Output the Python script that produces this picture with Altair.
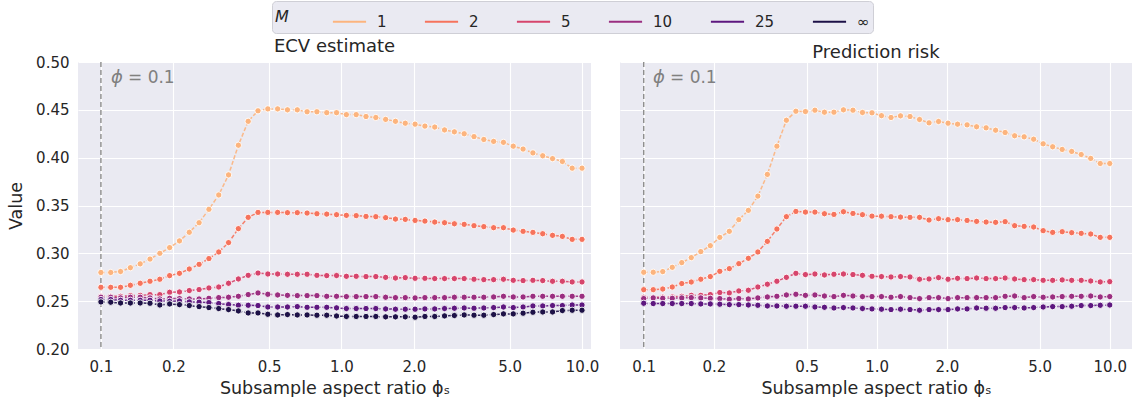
import altair as alt
import pandas as pd

# Subsample aspect ratios (log-spaced grid from 0.1 to 10, 50 points)
PHI = [0.1, 0.10985, 0.12068, 0.13257, 0.14563, 0.15998, 0.17575, 0.19307, 0.21210, 0.23300,
       0.25595, 0.28118, 0.30888, 0.33932, 0.37276, 0.40949, 0.44984, 0.49417, 0.54287, 0.59636,
       0.65513, 0.71969, 0.79060, 0.86851, 0.95410, 1.04811, 1.15140, 1.26486, 1.38950, 1.52642,
       1.67683, 1.84207, 2.02359, 2.22300, 2.44205, 2.68270, 2.94705, 3.23746, 3.55648, 3.90694,
       4.29193, 4.71487, 5.17947, 5.68987, 6.25055, 6.86649, 7.54312, 8.28643, 9.10298, 10.0]

M_LABELS = ["1", "2", "5", "10", "25", "∞"]
COLORS = ["#fcb47e", "#f6735c", "#d6456c", "#9a2e80", "#5d177f", "#1d1147"]

# ECV estimate per ensemble size M
ecv_m1 = [0.280, 0.280, 0.281, 0.285, 0.289, 0.294, 0.300, 0.306, 0.313, 0.322,
          0.332, 0.346, 0.361, 0.382, 0.413, 0.438, 0.449, 0.451, 0.451, 0.450,
          0.450, 0.448, 0.448, 0.447, 0.447, 0.445, 0.445, 0.443, 0.442, 0.440,
          0.438, 0.436, 0.435, 0.433, 0.432, 0.429, 0.427, 0.425, 0.422, 0.419,
          0.417, 0.416, 0.412, 0.409, 0.405, 0.402, 0.399, 0.396, 0.389, 0.389]
ecv_m2 = [0.2645, 0.2645, 0.2645, 0.2666, 0.2687, 0.2708, 0.2729, 0.2767, 0.2791, 0.2836,
          0.2885, 0.2945, 0.3014, 0.3112, 0.3258, 0.3376, 0.3428, 0.3428, 0.3428, 0.3425,
          0.3425, 0.3421, 0.3414, 0.3410, 0.3404, 0.3397, 0.3394, 0.3386, 0.3383, 0.3373,
          0.3358, 0.3355, 0.3344, 0.3337, 0.3327, 0.3320, 0.3309, 0.3303, 0.3289, 0.3279,
          0.3268, 0.3268, 0.3243, 0.3230, 0.3219, 0.3205, 0.3188, 0.3177, 0.3146, 0.3146]
ecv_m5 = [0.2551, 0.2551, 0.2551, 0.2558, 0.2561, 0.2568, 0.2568, 0.2593, 0.2596, 0.2611,
          0.2621, 0.2638, 0.2648, 0.2687, 0.2732, 0.2770, 0.2794, 0.2784, 0.2784, 0.2781,
          0.2781, 0.2781, 0.2770, 0.2767, 0.2768, 0.2760, 0.2760, 0.2757, 0.2757, 0.2749,
          0.2742, 0.2746, 0.2739, 0.2739, 0.2736, 0.2736, 0.2736, 0.2736, 0.2729, 0.2725,
          0.2725, 0.2729, 0.2718, 0.2715, 0.2718, 0.2715, 0.2708, 0.2708, 0.2701, 0.2701]
ecv_m10 = [0.2541, 0.2541, 0.2534, 0.2541, 0.2541, 0.2534, 0.2523, 0.2530, 0.2527, 0.2523,
           0.2523, 0.2530, 0.2537, 0.2541, 0.2551, 0.2569, 0.2586, 0.2572, 0.2565, 0.2561,
           0.2558, 0.2558, 0.2558, 0.2551, 0.2551, 0.2548, 0.2548, 0.2548, 0.2548, 0.2541,
           0.2537, 0.2537, 0.2534, 0.2537, 0.2537, 0.2537, 0.2541, 0.2541, 0.2541, 0.2541,
           0.2544, 0.2551, 0.2544, 0.2544, 0.2551, 0.2551, 0.2551, 0.2551, 0.2551, 0.2551]
ecv_m25 = [0.2517, 0.2517, 0.2509, 0.2509, 0.2509, 0.2509, 0.2502, 0.2499, 0.2502, 0.2492,
           0.2489, 0.2485, 0.2475, 0.2465, 0.2457, 0.2457, 0.2454, 0.2439, 0.2439, 0.2439,
           0.2443, 0.2436, 0.2436, 0.2436, 0.2430, 0.2423, 0.2423, 0.2423, 0.2423, 0.2419,
           0.2416, 0.2416, 0.2416, 0.2419, 0.2419, 0.2423, 0.2426, 0.2429, 0.2426, 0.2429,
           0.2433, 0.2439, 0.2433, 0.2439, 0.2450, 0.2450, 0.2454, 0.2454, 0.2460, 0.2460]
ecv_minf = [0.2492, 0.2489, 0.2481, 0.2481, 0.2481, 0.2478, 0.2460, 0.2471, 0.2464, 0.2454,
            0.2443, 0.2433, 0.2423, 0.2412, 0.2398, 0.2377, 0.2377, 0.2363, 0.2356, 0.2360,
            0.2356, 0.2356, 0.2353, 0.2353, 0.2345, 0.2340, 0.2340, 0.2340, 0.2340, 0.2336,
            0.2336, 0.2336, 0.2332, 0.2340, 0.2340, 0.2346, 0.2350, 0.2356, 0.2353, 0.2353,
            0.2360, 0.2367, 0.2367, 0.2374, 0.2384, 0.2387, 0.2387, 0.2402, 0.2405, 0.2405]

# Prediction risk per ensemble size M
risk_m1 = [0.2802, 0.2802, 0.2809, 0.2854, 0.2903, 0.2955, 0.3018, 0.3080, 0.3167, 0.3230,
           0.3352, 0.3449, 0.3598, 0.3825, 0.4120, 0.4391, 0.4485, 0.4482, 0.4496, 0.4475,
           0.4475, 0.4500, 0.4496, 0.4472, 0.4469, 0.4439, 0.4420, 0.4437, 0.4430, 0.4399,
           0.4364, 0.4378, 0.4360, 0.4350, 0.4343, 0.4323, 0.4312, 0.4287, 0.4263, 0.4229,
           0.4218, 0.4193, 0.4145, 0.4114, 0.4086, 0.4065, 0.4033, 0.3992, 0.3939, 0.3939]
risk_m2 = [0.2620, 0.2620, 0.2627, 0.2648, 0.2684, 0.2700, 0.2729, 0.2757, 0.2812, 0.2840,
           0.2892, 0.2948, 0.3014, 0.3125, 0.3254, 0.3383, 0.3438, 0.3431, 0.3431, 0.3414,
           0.3407, 0.3435, 0.3417, 0.3404, 0.3389, 0.3388, 0.3383, 0.3379, 0.3376, 0.3376,
           0.3348, 0.3362, 0.3352, 0.3352, 0.3344, 0.3334, 0.3327, 0.3324, 0.3331, 0.3289,
           0.3282, 0.3275, 0.3237, 0.3219, 0.3226, 0.3216, 0.3209, 0.3202, 0.3167, 0.3167]
risk_m5 = [0.2540, 0.2540, 0.2542, 0.2544, 0.2551, 0.2561, 0.2561, 0.2569, 0.2590, 0.2586,
           0.2607, 0.2614, 0.2648, 0.2677, 0.2708, 0.2749, 0.2791, 0.2778, 0.2784, 0.2774,
           0.2781, 0.2784, 0.2778, 0.2770, 0.2760, 0.2757, 0.2753, 0.2757, 0.2753, 0.2729,
           0.2732, 0.2746, 0.2729, 0.2739, 0.2736, 0.2742, 0.2736, 0.2736, 0.2742, 0.2732,
           0.2725, 0.2725, 0.2718, 0.2718, 0.2722, 0.2718, 0.2718, 0.2711, 0.2701, 0.2704]
risk_m10 = [0.2527, 0.2534, 0.2530, 0.2530, 0.2534, 0.2537, 0.2534, 0.2530, 0.2527, 0.2520,
            0.2527, 0.2523, 0.2534, 0.2544, 0.2551, 0.2565, 0.2572, 0.2561, 0.2565, 0.2554,
            0.2548, 0.2561, 0.2554, 0.2548, 0.2548, 0.2548, 0.2541, 0.2548, 0.2537, 0.2527,
            0.2537, 0.2537, 0.2527, 0.2537, 0.2537, 0.2537, 0.2537, 0.2537, 0.2551, 0.2554,
            0.2537, 0.2548, 0.2541, 0.2544, 0.2548, 0.2551, 0.2551, 0.2554, 0.2544, 0.2548]
risk_m25 = [0.2478, 0.2475, 0.2475, 0.2475, 0.2475, 0.2475, 0.2471, 0.2471, 0.2468, 0.2464,
            0.2464, 0.2460, 0.2457, 0.2450, 0.2450, 0.2447, 0.2447, 0.2447, 0.2439, 0.2436,
            0.2429, 0.2433, 0.2429, 0.2423, 0.2419, 0.2416, 0.2412, 0.2416, 0.2412, 0.2405,
            0.2412, 0.2412, 0.2412, 0.2419, 0.2419, 0.2429, 0.2426, 0.2426, 0.2433, 0.2433,
            0.2429, 0.2433, 0.2439, 0.2443, 0.2443, 0.2447, 0.2454, 0.2454, 0.2457, 0.2460]

X_TICKS = [0.1, 0.2, 0.5, 1.0, 2.0, 5.0, 10.0]
Y_TICKS = [0.20, 0.25, 0.30, 0.35, 0.40, 0.45, 0.50]

ecv_series = {"1": ecv_m1, "2": ecv_m2, "5": ecv_m5, "10": ecv_m10, "25": ecv_m25, "∞": ecv_minf}
risk_series = {"1": risk_m1, "2": risk_m2, "5": risk_m5, "10": risk_m10, "25": risk_m25}

TEXT = "#262626"
FONT = "DejaVu Sans"
LEGEND_X = 194
LEGEND_Y = -61


def long_frame(series):
    rows = []
    for order, m in enumerate(M_LABELS):
        if m not in series:
            continue
        for p, v in zip(PHI, series[m]):
            rows.append({"phi": p, "value": v, "M": m, "order": order})
    return pd.DataFrame(rows)


def panel(series, title, x_domain, width, first):
    df = long_frame(series)
    x_scale = alt.Scale(type="log", domain=x_domain, nice=False)
    x = alt.X("phi:Q", scale=x_scale,
              axis=alt.Axis(values=X_TICKS, format=".1f", title="Subsample aspect ratio ϕₛ"))
    if first:
        y_axis = alt.Axis(values=Y_TICKS, format=".2f", title="Value")
    else:
        y_axis = alt.Axis(values=Y_TICKS, labels=False, title=None)
    y = alt.Y("value:Q", scale=alt.Scale(domain=[0.2, 0.5], nice=False, zero=False), axis=y_axis)

    color_legend = alt.Legend(
        title="M", orient="none", legendX=LEGEND_X, legendY=LEGEND_Y,
        direction="horizontal", titleOrient="left",
        symbolType="stroke", symbolSize=1100, symbolStrokeWidth=1.8, symbolDash=[1, 0],
        symbolOpacity=1,
    )
    color = alt.Color("M:N", scale=alt.Scale(domain=M_LABELS, range=COLORS), legend=color_legend)

    # reference line at phi = 0.1 with its label
    ref = pd.DataFrame({"phi": [0.1]})
    vline = alt.Chart(ref).mark_rule(color="#8c8c8c", strokeDash=[5, 3], strokeWidth=1.4).encode(
        x=alt.X("phi:Q", scale=x_scale))
    note_sym = alt.Chart(ref).mark_text(
        text="ϕ", align="left", baseline="top", fontSize=18, fontStyle="italic",
        color="#808080", font=FONT
    ).encode(x=alt.value(33), y=alt.value(7))
    note_val = alt.Chart(ref).mark_text(
        text="= 0.1", align="left", baseline="top", fontSize=17, color="#808080", font=FONT
    ).encode(x=alt.value(50), y=alt.value(8))

    lines = alt.Chart(df).mark_line(strokeDash=[4, 2], strokeWidth=1.5, opacity=0.9).encode(
        x=x, y=y, color=color, detail="M:N", order="phi:Q")
    dots = alt.Chart(df).mark_circle(size=40, opacity=1, stroke="white", strokeWidth=0.9).encode(
        x=x, y=y, color=alt.Color("M:N", scale=alt.Scale(domain=M_LABELS, range=COLORS), legend=None),
        order="order:Q")

    return alt.layer(vline, lines, dots, note_sym, note_val).properties(
        width=width, height=287, title=alt.TitleParams(title, fontSize=18, fontWeight="normal",
                                                       color=TEXT, font=FONT, offset=-1))


left = panel(ecv_series, "ECV estimate", [0.0803, 10.9], 513, True)
right = panel(risk_series, "Prediction risk", [0.0791, 12.46], 512, False)

chart = alt.hconcat(left, right, spacing=21).resolve_scale(color="shared").resolve_legend(
    color="shared"
).properties(
    padding={"left": 7, "top": 0, "right": 0, "bottom": 0},
    background="white",
).configure_view(
    fill="#eaeaf2", stroke=None
).configure_axis(
    grid=True, gridColor="white", gridWidth=1.1, domain=False, ticks=False,
    labelFont=FONT, labelFontSize=15, labelColor=TEXT,
    titleFont=FONT, titleFontSize=17.5, titleFontWeight="normal", titleColor=TEXT,
).configure_axisX(
    labelPadding=10, titlePadding=5,
).configure_axisY(
    labelPadding=9, titlePadding=10,
).configure_legend(
    labelFont=FONT, labelFontSize=15, labelColor=TEXT,
    titleFont=FONT, titleFontSize=16, titleFontStyle="italic", titleFontWeight="normal",
    titleColor=TEXT, titlePadding=43, columnPadding=34, labelOffset=10,
    fillColor="#eaeaf2", strokeColor="#cfcfd6", cornerRadius=4, padding=3,
)

chart.save("out.html", embed_options={"renderer": "svg", "actions": False})
